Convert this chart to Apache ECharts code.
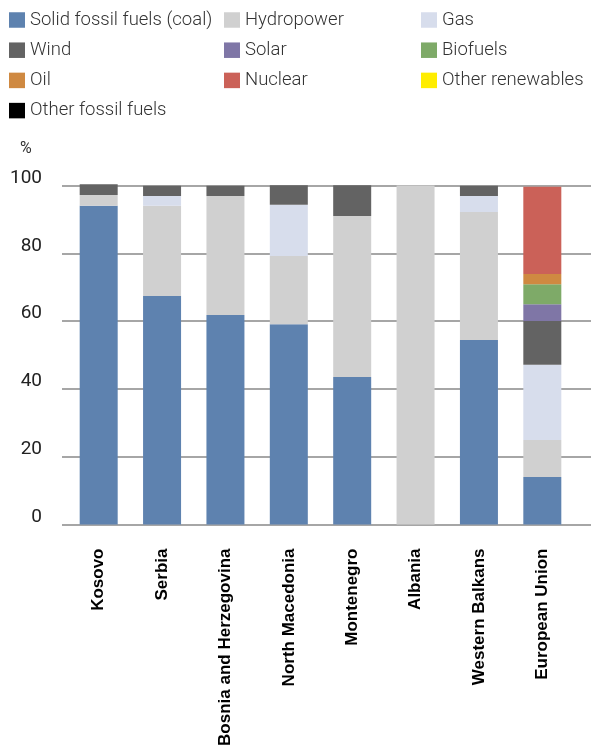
<!DOCTYPE html>
<html>
<head>
<meta charset="utf-8">
<script src="https://cdn.jsdelivr.net/npm/echarts@6/dist/echarts.min.js"></script>
<style>
  html, body { margin: 0; padding: 0; background: #ffffff; }
  #chart { width: 591px; height: 752px; }
</style>
</head>
<body>
<div id="chart"></div>
<script>
// Electricity generation mix by source, % of total
const categories = ['Kosovo', 'Serbia', 'Bosnia and Herzegovina', 'North Macedonia',
                    'Montenegro', 'Albania', 'Western Balkans', 'European Union'];

const coal            = [94.0, 67.4, 61.8, 59.1, 43.5, 0,     54.4, 14.0];
const hydropower      = [3.2,  26.6, 35.1, 20.1, 47.5, 100.0, 37.8, 10.9];
const gas             = [0,    2.9,  0,    15.1, 0,    0,     4.7,  22.2];
const wind            = [3.2,  3.0,  3.0,  5.8,  9.1,  0,     3.0,  12.9];
const solar           = [0,    0,    0,    0,    0,    0,     0,    5.0];
const biofuels        = [0,    0,    0,    0,    0,    0,     0,    5.9];
const oil             = [0,    0,    0,    0,    0,    0,     0,    3.0];
const nuclear         = [0,    0,    0,    0,    0,    0,     0,    25.7];
const otherRenewables = [0,    0,    0,    0,    0,    0,     0,    0];
const otherFossil     = [0,    0,    0,    0,    0,    0,     0,    0];

const yTicks = [0, 20, 40, 60, 80, 100];

const sources = [
  { name: 'Solid fossil fuels (coal)', data: coal,            color: '#5e82af' },
  { name: 'Hydropower',                data: hydropower,      color: '#d0d0d0' },
  { name: 'Gas',                       data: gas,             color: '#d7ddec' },
  { name: 'Wind',                      data: wind,            color: '#636363' },
  { name: 'Solar',                     data: solar,           color: '#7f76a6' },
  { name: 'Biofuels',                  data: biofuels,        color: '#7eaa68' },
  { name: 'Oil',                       data: oil,             color: '#cf8941' },
  { name: 'Nuclear',                   data: nuclear,         color: '#cb6158' },
  { name: 'Other renewables',          data: otherRenewables, color: '#ffed00' },
  { name: 'Other fossil fuels',        data: otherFossil,     color: '#000000' }
];

const legendText = { fontFamily: 'Roboto', fontSize: 18.5, fontWeight: 300, color: '#333333' };
function legendColumn(left, names) {
  return {
    orient: 'vertical', left: left, top: 10.5, padding: 0,
    itemWidth: 16, itemHeight: 15.5, itemGap: 11.2,
    icon: 'rect', textStyle: legendText,
    selectedMode: false,
    data: names
  };
}

const chart = echarts.init(document.getElementById('chart'), null, { renderer: 'canvas' });

chart.setOption({
  animation: false,
  backgroundColor: '#ffffff',
  title: {
    text: '%', left: 20, top: 141, padding: 0,
    textStyle: { fontFamily: 'Roboto', fontSize: 16, fontWeight: 400, color: '#333333' }
  },
  legend: [
    legendColumn(9,   ['Solid fossil fuels (coal)', 'Wind', 'Oil', 'Other fossil fuels']),
    legendColumn(224, ['Hydropower', 'Solar', 'Nuclear']),
    legendColumn(421, ['Gas', 'Biofuels', 'Other renewables'])
  ],
  grid: [
    // gridlines and value labels
    { left: 62, right: 0, top: 185.5, bottom: 227.5 },
    // bars
    { left: 67, right: 17, top: 185.5, bottom: 227.5 }
  ],
  xAxis: [
    { gridIndex: 0, type: 'value', show: false },
    {
      gridIndex: 1, type: 'category', data: categories,
      axisLine: { show: false }, axisTick: { show: false },
      axisLabel: {
        interval: 0, rotate: 90, margin: 24,
        fontFamily: 'Liberation Sans', fontWeight: 'bold', fontSize: 17, color: '#000000'
      }
    }
  ],
  yAxis: [
    {
      gridIndex: 0, type: 'value', min: yTicks[0], max: yTicks[yTicks.length - 1], interval: 20,
      axisLine: { show: false }, axisTick: { show: false },
      axisLabel: {
        margin: 20, verticalAlign: 'bottom', lineHeight: 15,
        fontFamily: 'Roboto', fontSize: 19, color: '#222222'
      },
      splitLine: { show: true, lineStyle: { color: '#a6a6a6', width: 2 } }
    },
    { gridIndex: 1, type: 'value', min: 0, max: 100, show: false, splitLine: { show: false } }
  ],
  series: sources.map(s => ({
    name: s.name,
    type: 'bar',
    stack: 'mix',
    xAxisIndex: 1,
    yAxisIndex: 1,
    barWidth: 38,
    clip: false,
    itemStyle: { color: s.color },
    emphasis: { disabled: true },
    data: s.data
  }))
});
</script>
</body>
</html>
